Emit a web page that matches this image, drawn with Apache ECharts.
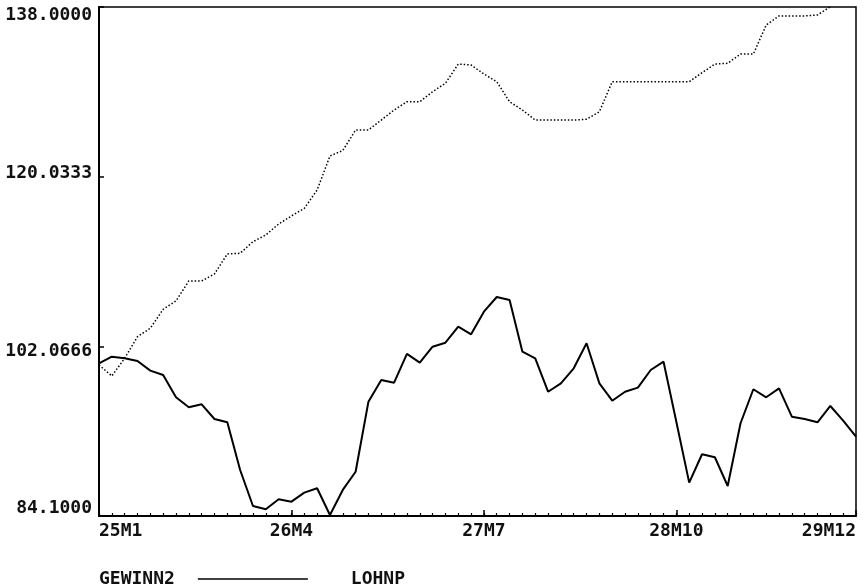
<!DOCTYPE html>
<html>
<head>
<meta charset="utf-8">
<script src="https://cdn.jsdelivr.net/npm/echarts@6/dist/echarts.min.js"></script>
<style>
html,body{margin:0;padding:0;background:#fff;}
#chart{width:865px;height:584px;}
</style>
</head>
<body>
<div id="chart"></div>
<script>
// Categories: monthly 25M1 .. 29M12
const years = [25, 26, 27, 28, 29];
const categories = [];
years.forEach(y => { for (let m = 1; m <= 12; m++) categories.push(y + 'M' + m); });

const xLabelIndices = [0, 15, 30, 45, 59];
const yTickValues = [84.1, 102.0666, 120.0333, 138.0];

const gewinn2 = [
  100.27, 100.97, 100.80, 100.51, 99.49, 99.03, 96.67, 95.61, 95.93, 94.37,
  94.02, 88.97, 85.16, 84.81, 85.87, 85.62, 86.57, 87.04, 84.21, 86.86,
  88.79, 96.21, 98.50, 98.22, 101.26, 100.34, 102.03, 102.45, 104.15, 103.34,
  105.74, 107.29, 106.97, 101.50, 100.80, 97.26, 98.15, 99.74, 102.39, 98.15,
  96.31, 97.26, 97.69, 99.56, 100.44, 94.06, 87.63, 90.64, 90.32, 87.28,
  93.92, 97.52, 96.67, 97.62, 94.62, 94.37, 94.02, 95.75, 94.19, 92.50
];

const lohnp = [
  100.09, 98.93, 100.80, 103.09, 103.98, 105.99, 106.87, 108.99, 108.99, 109.73,
  111.85, 111.92, 113.15, 113.86, 115.02, 115.87, 116.68, 118.62, 122.22, 122.80,
  124.98, 124.98, 126.03, 127.09, 127.97, 127.97, 129.03, 129.92, 131.96, 131.86,
  130.91, 130.09, 127.97, 127.09, 126.03, 126.03, 126.03, 126.03, 126.11, 126.91,
  130.09, 130.09, 130.09, 130.09, 130.09, 130.09, 130.09, 131.04, 131.96, 132.04,
  133.02, 133.02, 136.09, 137.05, 137.05, 137.05, 137.16, 138.03, 139.0, 140.0
];

const FONT = 'DejaVu Sans Mono';
const chart = echarts.init(document.getElementById('chart'), null, {renderer: 'canvas'});

const yPad = {
  '84.1000': [0, 0, 16, 0],
  '102.0666': [10, 0, 0, 0],
  '120.0333': [0, 0, 7, 0],
  '138.0000': [16, 0, 0, 0]
};
const yPadKeys = Object.keys(yPad);

chart.setOption({
  backgroundColor: '#fff',
  animation: false,
  grid: {
    left: 99, right: 9, top: 7, bottom: 68,
    show: true, borderColor: '#000', borderWidth: 1.5, backgroundColor: 'transparent'
  },
  legend: {
    left: 94, top: 564,
    align: 'right',
    itemWidth: 110, itemHeight: 1.5, itemGap: 43,
    itemStyle: {borderWidth: 0},
    textStyle: {fontFamily: FONT, fontWeight: 'bold', fontSize: 18, color: '#111', padding: [0, 18, 0, 0], lineHeight: 20},
    data: [
      {name: 'GEWINN2', icon: 'rect', itemStyle: {color: '#000', borderWidth: 0}},
      {name: 'LOHNP', icon: 'none'}
    ]
  },
  xAxis: [
    {
      type: 'category', data: categories, boundaryGap: false,
      axisLine: {show: true, lineStyle: {color: '#000', width: 2}},
      axisTick: {show: true, inside: true, length: 3, interval: 0, lineStyle: {color: '#000', width: 1.2}},
      axisLabel: {
        show: true, margin: 6,
        interval: (i) => xLabelIndices.includes(i),
        fontFamily: FONT, fontWeight: 'bold', fontSize: 18, color: '#111',
        alignMinLabel: 'left', alignMaxLabel: 'right'
      },
      splitLine: {show: false}
    },
    {
      type: 'category', data: categories, boundaryGap: false, position: 'bottom',
      axisLine: {show: false},
      axisTick: {show: true, inside: true, length: 6, interval: (i) => xLabelIndices.includes(i), lineStyle: {color: '#000', width: 1.5}},
      axisLabel: {show: false},
      splitLine: {show: false}
    }
  ],
  yAxis: {
    type: 'value', min: 84.1, max: 138.0,
    axisLine: {show: true, lineStyle: {color: '#000', width: 2}},
    axisTick: {show: true, inside: true, length: 5, customValues: yTickValues, lineStyle: {color: '#000', width: 1.5}},
    axisLabel: {
      show: true, margin: 7,
      customValues: yTickValues,
      formatter: (v) => {
        const s = Number(v).toFixed(4);
        return '{p' + yPadKeys.indexOf(s) + '|' + s + '}';
      },
      rich: Object.fromEntries(yPadKeys.map((k, i) => ['p' + i, {
        fontFamily: FONT, fontWeight: 'bold', fontSize: 18, color: '#111', padding: yPad[k]
      }])),
      fontFamily: FONT, fontWeight: 'bold', fontSize: 18, color: '#111'
    },
    splitLine: {show: false}
  },
  series: [
    {
      name: 'GEWINN2', type: 'line', data: gewinn2, xAxisIndex: 0,
      symbol: 'none', smooth: false,
      lineStyle: {color: '#000', width: 2},
      itemStyle: {color: '#000'}
    },
    {
      name: 'LOHNP', type: 'line', data: lohnp, xAxisIndex: 0,
      symbol: 'none', smooth: false, clip: true,
      lineStyle: {color: '#000', width: 1.5, type: [1.5, 2]},
      itemStyle: {color: '#000'}
    }
  ]
});
</script>
</body>
</html>
